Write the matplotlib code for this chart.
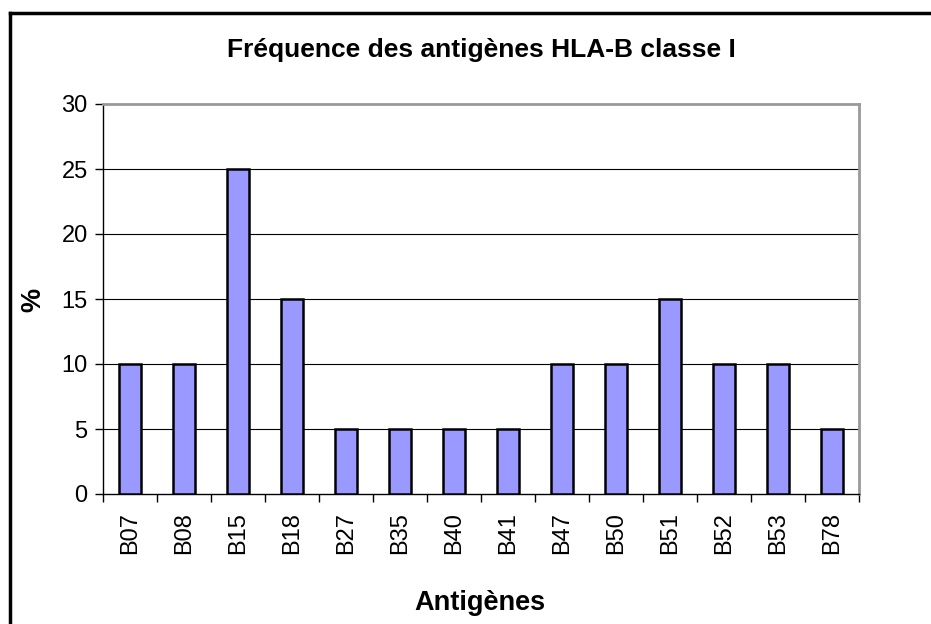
import matplotlib
matplotlib.use("Agg")
import matplotlib.pyplot as plt
from matplotlib.lines import Line2D

antigens = ["B07", "B08", "B15", "B18", "B27", "B35", "B40", "B41",
            "B47", "B50", "B51", "B52", "B53", "B78"]
freq = [10, 10, 25, 15, 5, 5, 5, 5, 10, 10, 15, 10, 10, 5]
yticks = [0, 5, 10, 15, 20, 25, 30]

plt.rcParams["font.family"] = ["Liberation Sans", "DejaVu Sans"]

fig = plt.figure(figsize=(9.31, 6.24), dpi=100)
ax = fig.add_axes([103 / 931, 1 - 494 / 624, 756 / 931, 390 / 624])

x = range(len(antigens))
ax.bar(x, freq, width=0.42, color="#9999FF", edgecolor="black", linewidth=1.8, zorder=3)

ax.set_xlim(-0.5, len(antigens) - 0.5)
ax.set_ylim(0, 30)
ax.set_yticks(yticks)
ax.set_xticks(list(x))
ax.set_xticklabels(antigens, rotation=90)
ax.set_xticks([i + 0.5 for i in range(-1, len(antigens))], minor=True)
ax.tick_params(axis="x", which="major", length=0, labelsize=17, pad=13)
ax.tick_params(axis="x", which="minor", length=6, width=1, direction="out")
ax.tick_params(axis="y", length=6, width=1, direction="out", labelsize=17, pad=5)

for y in yticks[1:-1]:
    ax.axhline(y, color="black", linewidth=0.8, zorder=1)

ax.spines["top"].set_color("#999999")
ax.spines["right"].set_color("#999999")
ax.spines["top"].set_linewidth(2)
ax.spines["right"].set_linewidth(2)
ax.spines["left"].set_linewidth(1)
ax.spines["bottom"].set_linewidth(1)

fig.text(481 / 931, 1 - 50 / 624, "Fréquence des antigènes HLA-B classe I",
         ha="center", va="center", fontsize=19, fontweight="bold")
fig.text(480 / 931, 1 - 603 / 624, "Antigènes", ha="center", va="center",
         fontsize=19.5, fontweight="bold")
fig.text(33 / 931, 1 - 300 / 624, "%", ha="center", va="center", rotation=90,
         fontsize=19.5, fontweight="bold")

# outer chart frame (only left and top visible)
fig.add_artist(Line2D([9.5 / 931, 9.5 / 931], [0, 1 - 12.5 / 624], color="black", linewidth=2.5))
fig.add_artist(Line2D([9.5 / 931, 1], [1 - 12.5 / 624, 1 - 12.5 / 624], color="black", linewidth=2.5))

fig.savefig("out.png", dpi=100)
